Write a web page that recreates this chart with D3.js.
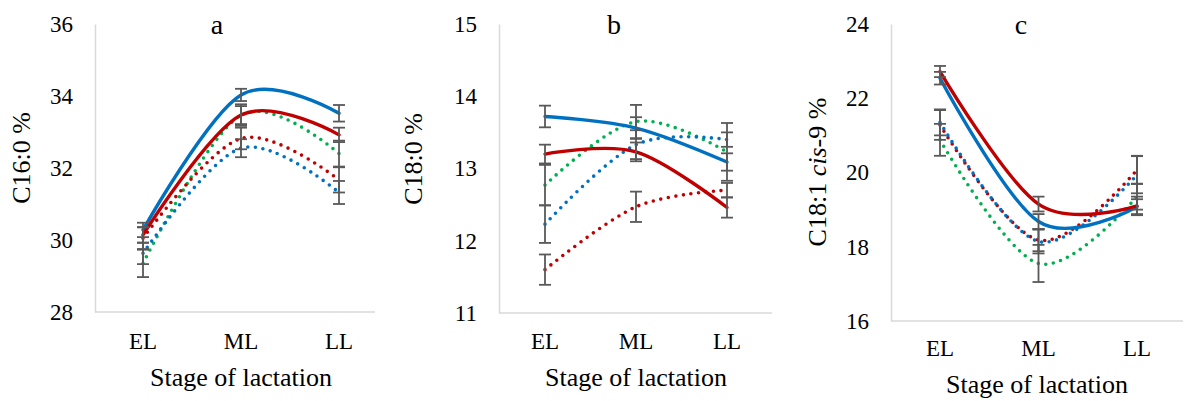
<!DOCTYPE html>
<html>
<head>
<meta charset="utf-8">
<script src="https://cdn.jsdelivr.net/npm/d3@7"></script>
<style>
  body { margin: 0; background: #fff; }
  svg text { font-family: "Liberation Serif", "Times New Roman", "DejaVu Serif", serif; fill: #000; }
</style>
</head>
<body>
<svg id="chart" width="1187" height="401"></svg>
<script>
const stages = ["EL", "ML", "LL"];

// panel a: C16:0 %
const aTicks = [28, 30, 32, 34, 36];
const aBlueSolid = [30.28, 34.03, 33.52];
const aBlueSolidErr = [0.2, 0.17, 0.23];
const aRedSolid = [30.14, 33.47, 32.92];
const aRedSolidErr = [0.22, 0.25, 0.2];
const aGreenDot = [29.35, 33.47, 32.4];
const aGreenDotErr = [0.38, 0.3, 0.36];
const aBlueDot = [29.63, 32.55, 31.32];
const aBlueDotErr = [0.3, 0.25, 0.32];
const aRedDot = [30.05, 32.82, 31.67];
const aRedDotErr = [0.3, 0.3, 0.35];

// panel b: C18:0 %
const bTicks = [11, 12, 13, 14, 15];
const bBlueSolid = [13.72, 13.56, 13.09];
const bBlueSolidErr = [0.15, 0.15, 0.12];
const bRedSolid = [13.2, 13.23, 12.46];
const bRedSolidErr = [0.13, 0.13, 0.14];
const bGreenDot = [12.77, 13.65, 13.23];
const bGreenDotErr = [0.28, 0.23, 0.4];
const bBlueDot = [12.23, 13.33, 13.4];
const bBlueDotErr = [0.26, 0.2, 0.1];
const bRedDot = [11.6, 12.47, 12.7];
const bRedDotErr = [0.21, 0.21, 0.1];

// panel c: C18:1 cis-9 %
const cTicks = [16, 18, 20, 22, 24];
const cBlueSolid = [22.54, 18.68, 19.08];
const cBlueSolidErr = [0.17, 0.2, 0.2];
const cRedSolid = [22.72, 19.15, 19.1];
const cRedSolidErr = [0.15, 0.2, 0.25];
const cGreenDot = [20.88, 17.55, 19.35];
const cGreenDotErr = [0.43, 0.5, 0.35];
const cBlueDot = [21.35, 18.14, 19.94];
const cBlueDotErr = [0.35, 0.32, 0.5];
const cRedDot = [21.28, 18.18, 20.07];
const cRedDotErr = [0.4, 0.3, 0.38];

const BLUE = "#0070C0", RED = "#C00000", GREEN = "#00B050";

function series(vals, errs, color, dotted) {
    return { vals, errs, color, dotted };
}

const panels = [
    {
        title: "a", yLabel: [["C16:0 %", false]], ticks: aTicks,
        left: 95, right: 375, top: 24, bottom: 312, catL: 143, catR: 339,
        titleX: 217, xTitleX: 241, xTitleY: 386, xTickY: 349, yLabelX: 21, yLabelY: 158,
        series: [
            series(aGreenDot, aGreenDotErr, GREEN, true),
            series(aBlueDot, aBlueDotErr, BLUE, true),
            series(aRedDot, aRedDotErr, RED, true),
            series(aBlueSolid, aBlueSolidErr, BLUE, false),
            series(aRedSolid, aRedSolidErr, RED, false)
        ]
    },
    {
        title: "b", yLabel: [["C18:0 %", false]], ticks: bTicks,
        left: 499, right: 772, top: 24, bottom: 313, catL: 545, catR: 727,
        titleX: 614, xTitleX: 636, xTitleY: 386, xTickY: 349, yLabelX: 413, yLabelY: 159,
        series: [
            series(bGreenDot, bGreenDotErr, GREEN, true),
            series(bBlueDot, bBlueDotErr, BLUE, true),
            series(bRedDot, bRedDotErr, RED, true),
            series(bBlueSolid, bBlueSolidErr, BLUE, false),
            series(bRedSolid, bRedSolidErr, RED, false)
        ]
    },
    {
        title: "c", yLabel: [["C18:1 ", false], ["cis", true], ["-9 %", false]], ticks: cTicks,
        left: 891, right: 1183, top: 24, bottom: 321, catL: 940, catR: 1137,
        titleX: 1021, xTitleX: 1037, xTitleY: 393, xTickY: 356, yLabelX: 817, yLabelY: 172,
        series: [
            series(cGreenDot, cGreenDotErr, GREEN, true),
            series(cRedDot, cRedDotErr, RED, true),
            series(cBlueDot, cBlueDotErr, BLUE, true),
            series(cBlueSolid, cBlueSolidErr, BLUE, false),
            series(cRedSolid, cRedSolidErr, RED, false)
        ]
    }
];

const svg = d3.select("#chart");

panels.forEach(p => {
    const g = svg.append("g");

    const x = d3.scalePoint().domain(stages).range([p.catL, p.catR]);
    const y = d3.scaleLinear()
        .domain(d3.extent(p.ticks))
        .range([p.bottom, p.top]);

    // axes (Excel style: light grey lines, no tick marks)
    g.append("g")
        .attr("transform", `translate(${p.left},0)`)
        .call(d3.axisLeft(y).tickValues(p.ticks).tickFormat(d3.format("d")).tickSize(0).tickPadding(22))
        .call(a => a.attr("font-family", null).attr("font-size", null))
        .call(a => a.select(".domain").attr("stroke", "#D9D9D9").attr("stroke-width", 1.5))
        .call(a => a.selectAll("text").attr("font-size", 23));

    g.append("line")
        .attr("x1", p.left).attr("x2", p.right)
        .attr("y1", p.bottom).attr("y2", p.bottom)
        .attr("stroke", "#D9D9D9").attr("stroke-width", 1.5);

    g.selectAll(".xtick")
        .data(stages)
        .join("text")
        .attr("class", "xtick")
        .attr("x", d => x(d))
        .attr("y", p.xTickY)
        .attr("text-anchor", "middle")
        .attr("font-size", 23)
        .text(d => d);

    // titles
    g.append("text")
        .attr("x", p.titleX).attr("y", 34)
        .attr("text-anchor", "middle")
        .attr("font-size", 28)
        .text(p.title);

    g.append("text")
        .attr("x", p.xTitleX).attr("y", p.xTitleY)
        .attr("text-anchor", "middle")
        .attr("font-size", 26)
        .text("Stage of lactation");

    const yl = g.append("text")
        .attr("transform", `translate(${p.yLabelX + 9},${p.yLabelY}) rotate(-90)`)
        .attr("text-anchor", "middle")
        .attr("font-size", 26);
    p.yLabel.forEach(([t, it]) => {
        yl.append("tspan").attr("font-style", it ? "italic" : null).text(t);
    });

    const line = d3.line()
        .x((d, i) => x(stages[i]))
        .y(d => y(d))
        .curve(d3.curveCardinal);

    // dotted series first, solid on top
    p.series.forEach(s => {
        g.append("path")
            .attr("d", line(s.vals))
            .attr("fill", "none")
            .attr("stroke", s.color)
            .attr("stroke-width", s.dotted ? 3.6 : 3.4)
            .attr("stroke-linecap", "round")
            .attr("stroke-dasharray", s.dotted ? "0 7.6" : null);
    });

    // error bars
    p.series.forEach(s => {
        const eb = g.append("g").attr("stroke", "#595959").attr("stroke-width", 1.8);
        s.vals.forEach((v, i) => {
            const cx = x(stages[i]);
            const hi = y(v + s.errs[i]), lo = y(v - s.errs[i]);
            eb.append("line").attr("x1", cx).attr("x2", cx).attr("y1", hi).attr("y2", lo);
            eb.append("line").attr("x1", cx - 6).attr("x2", cx + 6).attr("y1", hi).attr("y2", hi);
            eb.append("line").attr("x1", cx - 6).attr("x2", cx + 6).attr("y1", lo).attr("y2", lo);
        });
    });
});
</script>
</body>
</html>
